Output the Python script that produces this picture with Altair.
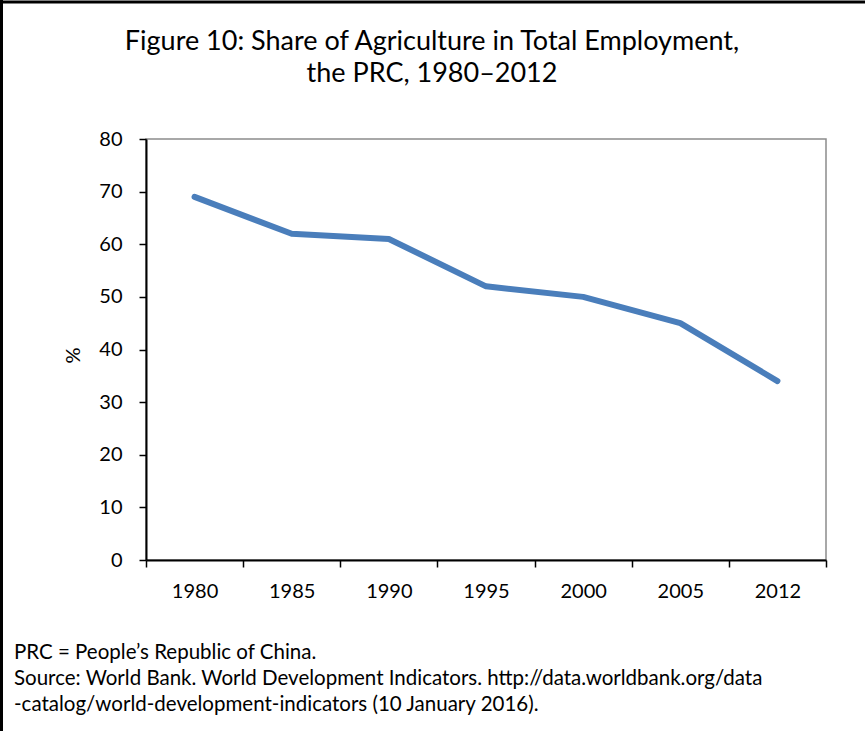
import altair as alt
import pandas as pd

years = ["1980", "1985", "1990", "1995", "2000", "2005", "2012"]
share = [69, 62, 61, 52, 50, 45, 34]
y_ticks = [0, 10, 20, 30, 40, 50, 60, 70, 80]

title_lines = ["Figure 10: Share of Agriculture in Total Employment,", "the PRC, 1980\u20132012"]
notes = [
    "PRC = People\u2019s Republic of China.",
    "Source: World Bank. World Development Indicators. http://data.worldbank.org/data",
    "-catalog/world-development-indicators (10 January 2016).",
]

FONT = "Lato"
W, H = 680, 421
PL, PT = 146, 139

df = pd.DataFrame({"year": years, "share": share})

line = alt.Chart(df).mark_line(color="#4A7EBB", strokeWidth=6, strokeCap="round", strokeJoin="round").encode(
    x=alt.X("year:O", sort=years, bandPosition=0.5,
            scale=alt.Scale(type="band", paddingInner=0, paddingOuter=0),
            axis=alt.Axis(title=None, labelAngle=0, tickBand="extent", labelPadding=14)),
    y=alt.Y("share:Q", scale=alt.Scale(domain=[0, 80], nice=False),
            axis=alt.Axis(values=y_ticks, title="%", titleX=-73, titleY=216,
                          titleAlign="center", titleBaseline="middle", titleAngle=-90,
                          titleFontWeight="normal", titleFontSize=20, labelPadding=17)),
)

title_df = pd.DataFrame({"t": title_lines, "i": [0, 1]})
title = alt.Chart(title_df).mark_text(font=FONT, fontSize=27, color="black", align="center", baseline="middle").encode(
    text="t:N",
    x=alt.value(432 - PL),
    y=alt.Y("i:O", axis=None, scale=alt.Scale(type="point", padding=0, domain=[0, 1], range=[42 - PT, 74 - PT])),
)

notes_df = pd.DataFrame({"t": notes, "i": [0, 1, 2]})
foot = alt.Chart(notes_df).mark_text(font=FONT, fontSize=20.5, color="black", align="left", baseline="middle").encode(
    text="t:N",
    x=alt.value(14 - PL),
    y=alt.Y("i:O", axis=None, scale=alt.Scale(type="point", padding=0, domain=[0, 1, 2], range=[653 - PT, 705 - PT])),
)

border_left = alt.Chart(pd.DataFrame({"a": [0]})).mark_rule(color="black", strokeWidth=3).encode(
    x=alt.value(1.5 - PL), y=alt.value(0 - PT), y2=alt.value(731 - PT))
border_top = alt.Chart(pd.DataFrame({"a": [0]})).mark_rule(color="black", strokeWidth=3).encode(
    x=alt.value(0 - PL), x2=alt.value(865 - PL), y=alt.value(2 - PT))

chart = alt.layer(line, title, foot, border_left, border_top).resolve_scale(y="independent").properties(
    width=W, height=H,
    autosize=alt.AutoSizeParams(type="none"),
    padding={"left": PL, "top": PT, "right": 865 - PL - W, "bottom": 731 - PT - H},
    background="white",
).configure_view(stroke="#8c8c8c", strokeWidth=1.5).configure_axis(
    labelFont=FONT, titleFont=FONT, labelFontSize=20, labelColor="black", titleColor="black",
    domainColor="black", domainWidth=2, tickColor="black", tickWidth=1.5, tickSize=7, grid=False,
)

chart.save("out.html", embed_options={"renderer": "svg", "actions": False})
